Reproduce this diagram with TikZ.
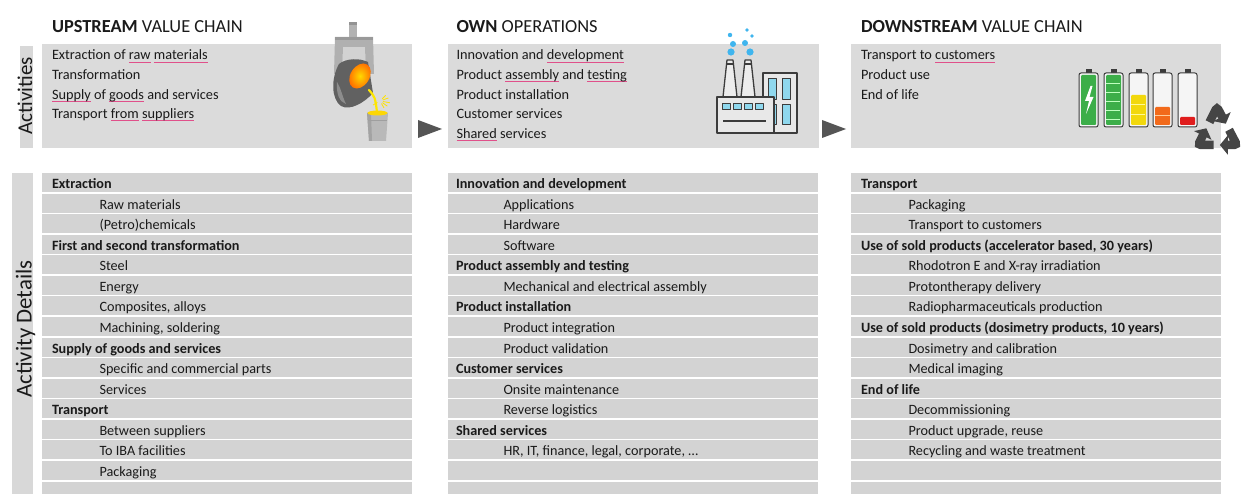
\documentclass[tikz,border=0pt]{standalone}
\usepackage{fontspec}
\setmainfont{Carlito}
\usetikzlibrary{arrows.meta,calc}

\definecolor{boxgray}{HTML}{DBDBDB}
\definecolor{bargray}{HTML}{D3D3D3}
\definecolor{stripgray}{HTML}{D8D8D8}
\definecolor{inkgray}{HTML}{1A1A1A}
\definecolor{squig}{HTML}{E0508A}
\definecolor{chev}{HTML}{555555}
\definecolor{iconline}{HTML}{3C3C3C}
\definecolor{smoke}{HTML}{3FB5EE}
\definecolor{winblue}{HTML}{8FD8EE}
\definecolor{batgreen}{HTML}{3CAE49}
\definecolor{batyellow}{HTML}{F2D80C}
\definecolor{batorange}{HTML}{F26A1B}
\definecolor{batred}{HTML}{E01D1D}
\definecolor{recyc}{HTML}{454545}

% spell-check style underline
\newcommand\spl[1]{\setbox0\hbox{#1}\leavevmode\rlap{\color{squig}\rule[-2.4pt]{\wd0}{0.7pt}}\box0{}}
\newcommand\toptxt{\fontsize{14.3}{19.6}\selectfont}
\newcommand\dettxt{\fontsize{14.2}{17}\selectfont}
\newcommand\hdrtxt{\fontsize{18.4}{22}\selectfont}

\tikzset{
  every node/.style={inner sep=0pt, outer sep=0pt, text=inkgray},
  topbox/.style={fill=boxgray, anchor=north west, minimum width=370pt, minimum height=104pt},
  barbox/.style={fill=bargray, anchor=north west, minimum width=370pt, minimum height=19pt},
  strip/.style={fill=stripgray, anchor=north west},
  hdr/.style={anchor=base west, font=\hdrtxt},
  tl/.style={anchor=base west, font=\toptxt},
  dh/.style={anchor=base west, font=\dettxt\bfseries},
  ds/.style={anchor=base west, font=\dettxt},
  vlab/.style={rotate=90},
  chevron/.style={fill=chev},
  outl/.style={draw=iconline, line width=1.3pt, line join=round},
  recarrow/.style={recyc, line width=8.5pt, rounded corners=3pt, -{Triangle[length=8pt,width=19pt]}},
}

% detail rows: heading / indented item
\newcommand\dH[4]{\node[dh] (#1) at ({#2},{188.5+20.57*#3}) {#4};}
\newcommand\dS[4]{\node[ds] (#1) at ({#2+47.5},{188.5+20.57*#3}) {#4};}

\begin{document}
\begin{tikzpicture}[x=1pt,y=-1pt]
\useasboundingbox (0,0) rectangle (1245,494);
\fill[white] (0,0) rectangle (1245,494);

% side labels
\node[strip, minimum width=13pt, minimum height=102pt] (actstrip) at (20,46) {};
\node[strip, minimum width=21pt, minimum height=330pt] (detstrip) at (12,173) {};
\node[vlab, font=\fontsize{21}{24}\selectfont] (actlab) at (25,96) {Activities};
\node[vlab, font=\fontsize{22.8}{26}\selectfont] (detlab) at (25.5,329) {Activity Details};

% column headers
\node[hdr] (uph) at (52,33) {\textbf{UPSTREAM} VALUE CHAIN};
\node[hdr] (owh) at (456.5,33) {\textbf{OWN} OPERATIONS};
\node[hdr] (dnh) at (861,33) {\textbf{DOWNSTREAM} VALUE CHAIN};

% activity boxes
\node[topbox] (upbox) at (42,44) {};
\node[topbox, minimum width=371pt] (owbox) at (447.5,44) {};
\node[topbox] (dnbox) at (850.5,44) {};

\node[tl] (ua1) at (52,60) {Extraction of \spl{raw} \spl{materials}};
\node[tl] (ua2) at (52,79.6) {Transformation};
\node[tl] (ua3) at (52,99.2) {\spl{Supply} of \spl{goods} and services};
\node[tl] (ua4) at (52,118.8) {Transport \spl{from} \spl{suppliers}};

\node[tl] (oa1) at (456.5,60) {Innovation and \spl{development}};
\node[tl] (oa2) at (456.5,79.6) {Product \spl{assembly} and \spl{testing}};
\node[tl] (oa3) at (456.5,99.2) {Product installation};
\node[tl] (oa4) at (456.5,118.8) {Customer services};
\node[tl] (oa5) at (456.5,138.4) {\spl{Shared} services};

\node[tl] (da1) at (861,60) {Transport to \spl{customers}};
\node[tl] (da2) at (861,79.6) {Product use};
\node[tl] (da3) at (861,99.2) {End of life};

% chevrons between the stages
\fill[chevron] (418,120) -- (442,129) -- (418,138) -- cycle;
\fill[chevron] (822,120) -- (846,129) -- (822,138) -- cycle;

% detail bars
\foreach \c/\x in {up/42, ow/447.5, dn/850.5}{
  \foreach \i in {0,...,15}{
    \node[barbox] (\c bar\i) at (\x,{173+20.57*\i}) {};
  }
}

% upstream details
\dH{u0}{52}{0}{Extraction}
\dS{u1}{52}{1}{Raw materials}
\dS{u2}{52}{2}{(Petro)chemicals}
\dH{u3}{52}{3}{First and second transformation}
\dS{u4}{52}{4}{Steel}
\dS{u5}{52}{5}{Energy}
\dS{u6}{52}{6}{Composites, alloys}
\dS{u7}{52}{7}{Machining, soldering}
\dH{u8}{52}{8}{Supply of goods and services}
\dS{u9}{52}{9}{Specific and commercial parts}
\dS{u10}{52}{10}{Services}
\dH{u11}{52}{11}{Transport}
\dS{u12}{52}{12}{Between suppliers}
\dS{u13}{52}{13}{To IBA facilities}
\dS{u14}{52}{14}{Packaging}

% own operations details
\dH{o0}{456}{0}{Innovation and development}
\dS{o1}{456}{1}{Applications}
\dS{o2}{456}{2}{Hardware}
\dS{o3}{456}{3}{Software}
\dH{o4}{456}{4}{Product assembly and testing}
\dS{o5}{456}{5}{Mechanical and electrical assembly}
\dH{o6}{456}{6}{Product installation}
\dS{o7}{456}{7}{Product integration}
\dS{o8}{456}{8}{Product validation}
\dH{o9}{456}{9}{Customer services}
\dS{o10}{456}{10}{Onsite maintenance}
\dS{o11}{456}{11}{Reverse logistics}
\dH{o12}{456}{12}{Shared services}
\dS{o13}{456}{13}{HR, IT, finance, legal, corporate, \dots}

% downstream details
\dH{d0}{861}{0}{Transport}
\dS{d1}{861}{1}{Packaging}
\dS{d2}{861}{2}{Transport to customers}
\dH{d3}{861}{3}{Use of sold products (accelerator based, 30 years)}
\dS{d4}{861}{4}{Rhodotron E and X-ray irradiation}
\dS{d5}{861}{5}{Protontherapy delivery}
\dS{d6}{861}{6}{Radiopharmaceuticals production}
\dH{d7}{861}{7}{Use of sold products (dosimetry products, 10 years)}
\dS{d8}{861}{8}{Dosimetry and calibration}
\dS{d9}{861}{9}{Medical imaging}
\dH{d10}{861}{10}{End of life}
\dS{d11}{861}{11}{Decommissioning}
\dS{d12}{861}{12}{Product upgrade, reuse}
\dS{d13}{861}{13}{Recycling and waste treatment}

% ---- icon: pouring ladle ----
% hanger
\fill[gray!60] (349,22) rectangle (357,38);
\fill[gray!85] (349,22) rectangle (357,25);
% yoke frame
\fill[gray!62] (335,37) -- (373,37) -- (374,74) -- (366,74) -- (365,47) -- (343,47) -- (342,74) -- (334,74) -- cycle;
\fill[gray!35] (343,47) rectangle (365,60);
\fill[gray!80] (335,37) rectangle (373,40);
% ladle body
\fill[black!62] (339,64) .. controls (331,78) and (331,99) .. (341,106)
  .. controls (350,111) and (364,103) .. (373,93) -- (368,62) .. controls (360,58) and (346,58) .. cycle;
\fill[black!45] (337,82) .. controls (336,95) and (340,102) .. (346,104) .. controls (342,96) and (341,88) .. cycle;
\shade[inner color=yellow!70!orange, outer color=orange!85!red, rotate around={-32:(360,76)}] (360,76) ellipse (9.5 and 13.5);
% molten stream and sparks
\draw[yellow!90!orange, line width=2.2pt, line cap=round] (369,90) .. controls (375,97) .. (377,112);
\foreach \a/\l in {10/7, 35/6, -20/6, 60/5, -45/5, 150/5}{
  \draw[yellow!85!orange, line width=0.8pt] ($(380,101)+(\a:3)$) -- ($(380,101)+(\a:3+\l)$);
}
% receiving pot
\fill[gray!55] (367,113) -- (388,113) -- (386,141) -- (369,141) -- cycle;
\fill[gray!72] (367,113) -- (371,113) -- (372,141) -- (369,141) -- cycle;
\draw[gray!75, line width=0.6pt] (368,120) -- (387,120);
\fill[yellow!75!orange] (377.5,113) ellipse (10 and 2.5);

% ---- icon: factory ----
\filldraw[outl, fill=gray!18] (763,73) rectangle (797,133);
\filldraw[outl, fill=winblue, line width=1pt] (768,79) rectangle (776,100);
\filldraw[outl, fill=winblue, line width=1pt] (782,79) rectangle (790,100);
\filldraw[outl, fill=winblue, line width=1pt] (768,105) rectangle (776,125);
\filldraw[outl, fill=winblue, line width=1pt] (782,105) rectangle (790,125);
\filldraw[outl, fill=gray!15] (727,60) -- (733,60) -- (737,97) -- (723,97) -- cycle;
\filldraw[outl, fill=gray!15] (745,60) -- (751,60) -- (755,97) -- (741,97) -- cycle;
\draw[outl] (727,64) -- (733,64);
\draw[outl] (745,64) -- (751,64);
\filldraw[outl, fill=gray!18] (717,97) rectangle (774,133);
\foreach \wx in {722,733,744,755}{
  \filldraw[outl, fill=winblue, line width=1pt] (\wx,104) rectangle ++(8,6);
}
\draw[outl] (723,121) -- (766,121);
\foreach \sx/\sy/\r in {730/35/2.2, 733/44/3.0, 731/52/3.6, 747/30/1.8, 752/36/1.8, 745/43/3.0, 750/52/3.6}{
  \fill[smoke] (\sx,\sy) circle (\r);
}

% ---- icon: batteries ----
\foreach \bx/\col/\top in {1079/batgreen/75, 1104/batgreen/75, 1129/batyellow/95, 1153/batorange/107, 1178/batred/117}{
  \fill[iconline] (\bx+6.5,69.5) rectangle ++(6,4);
  \filldraw[fill=white!92!gray, draw=iconline, line width=1pt, rounded corners=2pt] (\bx,73) rectangle ++(19,54);
  \fill[\col, rounded corners=1pt] (\bx+2,\top) rectangle (\bx+17,125);
}
\fill[white] (1090.5,86) -- (1085,101) -- (1089,101) -- (1086,114) -- (1093.5,97) -- (1089.5,97) -- (1092.5,86) -- cycle;
\foreach \s in {84,93,102,111,120}{
  \draw[green!25!white, line width=1pt] (1106,\s) -- (1120,\s);
}
\foreach \s in {105,115}{
  \draw[yellow!40!white, line width=1pt] (1131,\s) -- (1145,\s);
}
\draw[orange!40!white, line width=1pt] (1155,116) -- (1170,116);

% ---- icon: recycling arrows ----
\coordinate (rva) at (1217,107);
\coordinate (rvb) at (1198,145);
\coordinate (rvc) at (1237,145);
\draw[recarrow] ($(rvb)!0.6!(rva)$) -- (rva) -- ($(rva)!0.44!(rvc)$);
\draw[recarrow] ($(rva)!0.6!(rvc)$) -- (rvc) -- ($(rvc)!0.44!(rvb)$);
\draw[recarrow] ($(rvc)!0.6!(rvb)$) -- (rvb) -- ($(rvb)!0.44!(rva)$);
\end{tikzpicture}
\end{document}
